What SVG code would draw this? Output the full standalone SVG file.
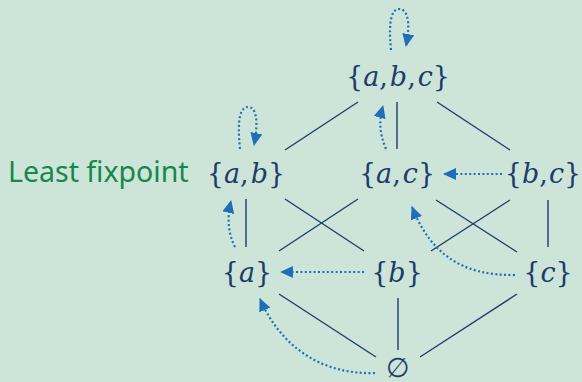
<svg xmlns="http://www.w3.org/2000/svg" width="582" height="382" viewBox="0 0 582 382">
<style>
.bg{fill:#cde5d8}
.m{font-family:"DejaVu Serif",serif;font-size:27px;fill:#1c3d6b;text-anchor:middle}
.i{font-style:italic}
.e{stroke:#1c3d6b;stroke-width:1.4;fill:none}
.d{stroke:#1f6fb8;stroke-width:2.2;fill:none;stroke-dasharray:2 2.4}
.lbl{font-family:"Noto Sans","Open Sans",sans-serif;font-size:28.5px;fill:#15884a}
</style>
<defs>
<marker id="ah" markerWidth="14" markerHeight="12" refX="12" refY="6" orient="auto" markerUnits="userSpaceOnUse">
<path d="M0,0 L13,6 L0,12 Z" fill="#1f6fb8"/>
</marker>
</defs>
<rect class="bg" x="0" y="0" width="582" height="382"/>
<g id="edges">
<line class="e" x1="358" y1="102" x2="285" y2="150"/>
<line class="e" x1="397" y1="102" x2="397" y2="149"/>
<line class="e" x1="437" y1="102" x2="510" y2="150"/>
<line class="e" x1="246" y1="199" x2="246" y2="247"/>
<line class="e" x1="285" y1="199" x2="364" y2="251"/>
<line class="e" x1="358" y1="199" x2="279" y2="251"/>
<line class="e" x1="436" y1="200" x2="517" y2="252"/>
<line class="e" x1="510" y1="200" x2="431" y2="251"/>
<line class="e" x1="548" y1="200" x2="548" y2="247"/>
<line class="e" x1="279" y1="294" x2="376" y2="357"/>
<line class="e" x1="398" y1="298" x2="398" y2="350"/>
<line class="e" x1="517" y1="294" x2="420" y2="357"/>
</g>
<g id="arrows">
<path class="d" marker-end="url(#ah)" d="M391,50 C388,20 392,9 399,9 C407,9 411,20 406,46"/>
<path class="d" marker-end="url(#ah)" d="M240,149 C237,120 240,107 248,107 C256,107 259,120 254,145"/>
<path class="d" marker-end="url(#ah)" d="M386,149 C379,132 379,120 383,106"/>
<path class="d" marker-end="url(#ah)" d="M502,174 L444,174"/>
<path class="d" marker-end="url(#ah)" d="M515,275 C460,276 430,252 412,207"/>
<path class="d" marker-end="url(#ah)" d="M364,272 L281,272"/>
<path class="d" marker-end="url(#ah)" d="M375,373 C320,375 280,345 260,299"/>
<path class="d" marker-end="url(#ah)" d="M235,247 C228,233 227,218 231,201"/>
</g>
<g id="n-abc"><text class="m" x="398" y="86">{<tspan class="i">a</tspan>,<tspan class="i" dx="2">b</tspan>,<tspan class="i" dx="2">c</tspan>}</text></g>
<g id="n-ab"><text class="m" x="246" y="183">{<tspan class="i">a</tspan>,<tspan class="i" dx="2">b</tspan>}</text></g>
<g id="n-ac"><text class="m" x="397" y="183">{<tspan class="i">a</tspan>,<tspan class="i" dx="2">c</tspan>}</text></g>
<g id="n-bc"><text class="m" x="543" y="183">{<tspan class="i">b</tspan>,<tspan class="i" dx="1">c</tspan>}</text></g>
<g id="n-a"><text class="m" x="247" y="282">{<tspan class="i">a</tspan>}</text></g>
<g id="n-b"><text class="m" x="397" y="282">{<tspan class="i">b</tspan>}</text></g>
<g id="n-c"><text class="m" x="548" y="282">{<tspan class="i">c</tspan>}</text></g>
<g id="n-empty"><text class="m" x="398" y="377">∅</text></g>
<g id="label"><text class="lbl" x="8" y="182">Least fixpoint</text></g>
</svg>
